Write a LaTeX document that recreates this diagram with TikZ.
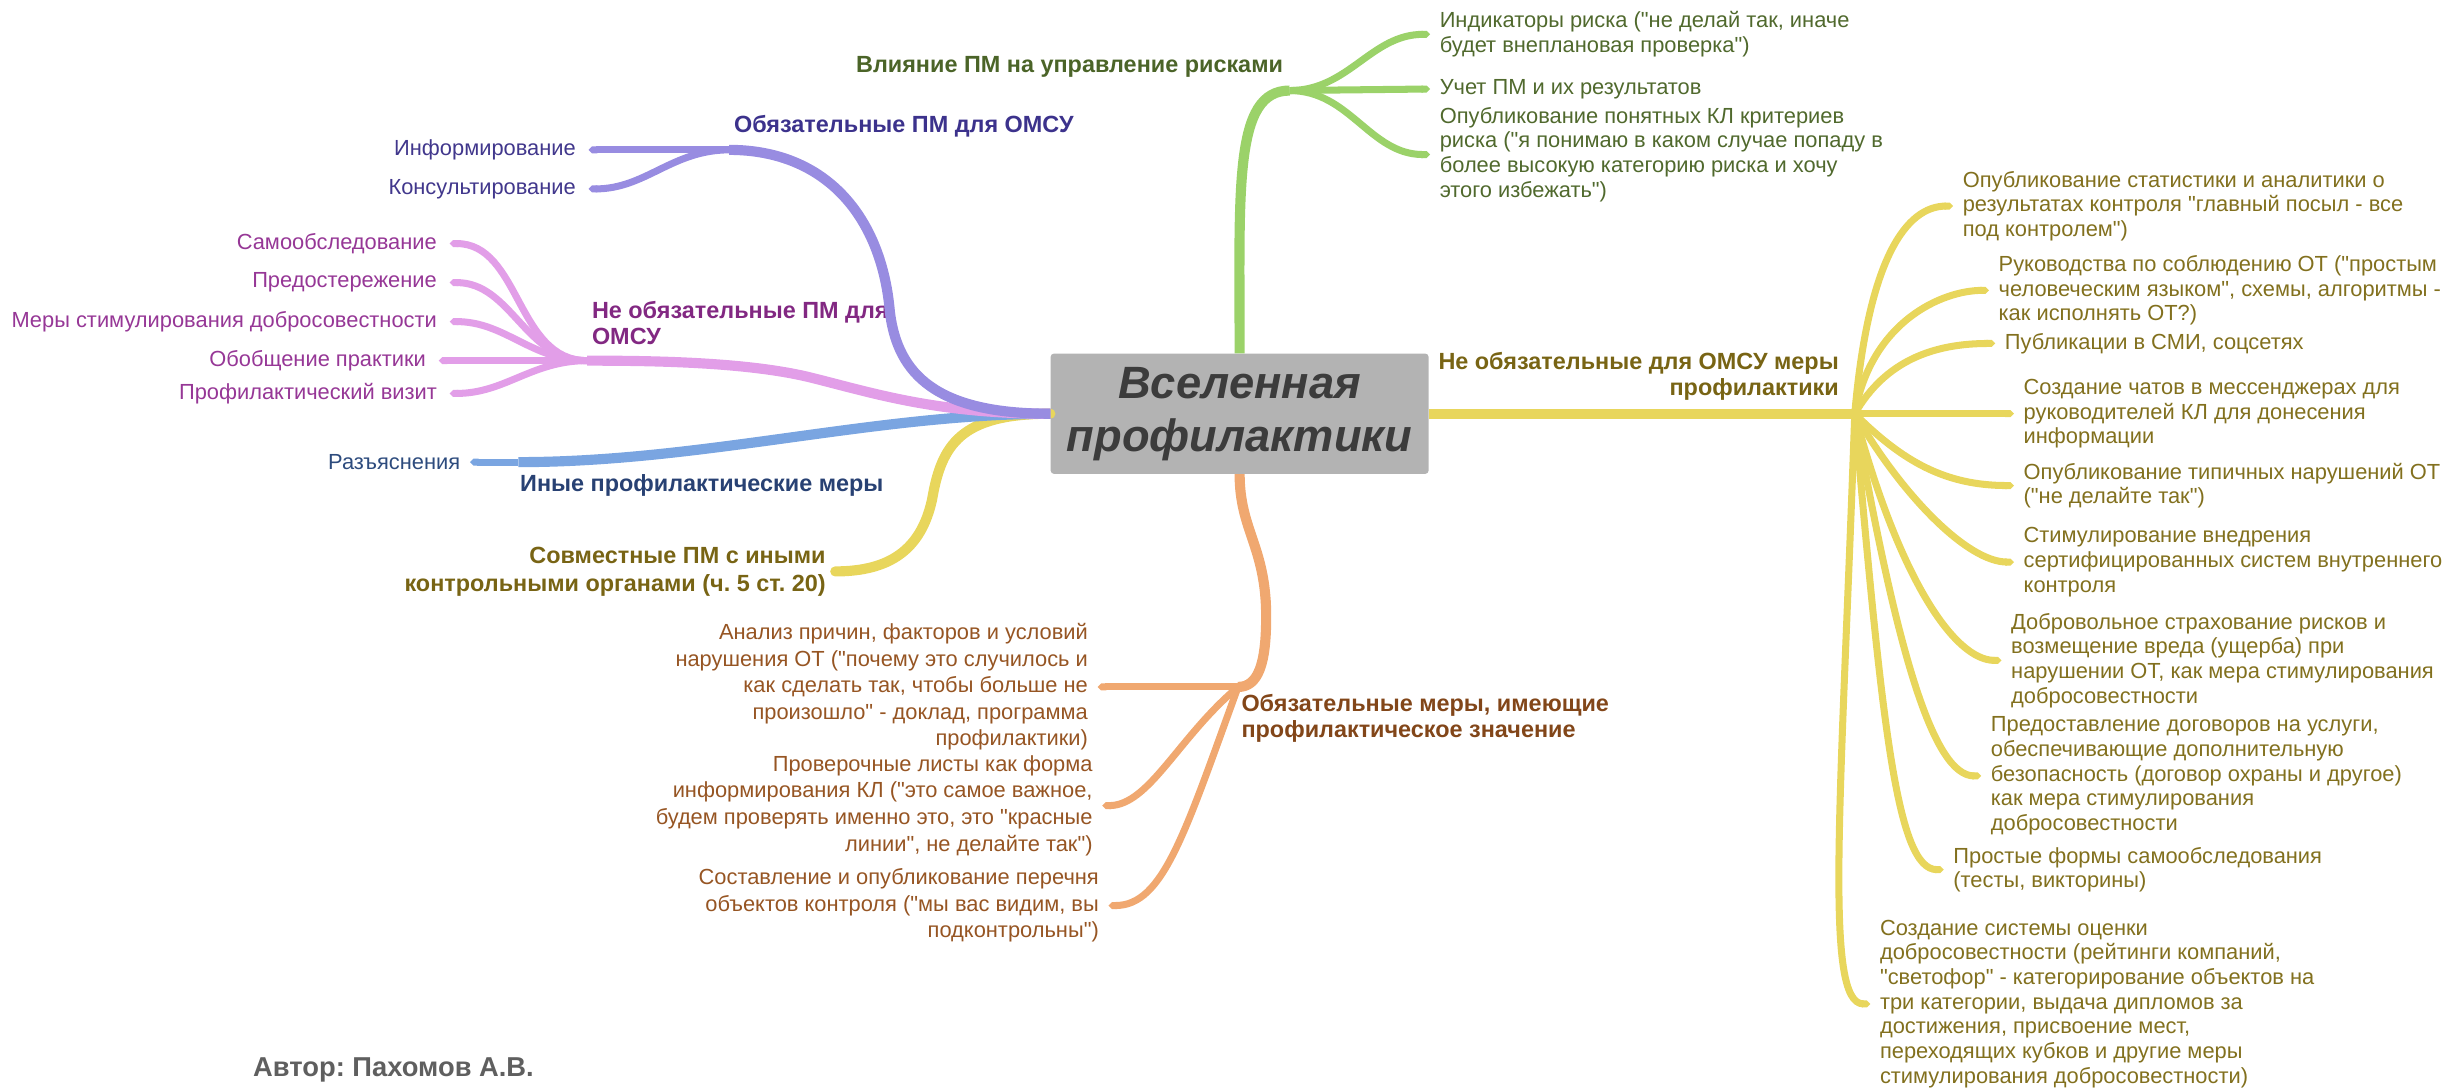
\documentclass[tikz,border=0pt]{standalone}
\usepackage{fontspec}
\setmainfont{Liberation Sans}[Ligatures=TeXOff]
\usetikzlibrary{arrows.meta}
\frenchspacing
\definecolor{grnline}{RGB}{155,210,105}
\definecolor{grntext}{RGB}{80,105,45}
\definecolor{grntop}{RGB}{75,100,40}
\definecolor{ylwline}{RGB}{232,214,92}
\definecolor{ylwtext}{RGB}{130,112,30}
\definecolor{ylwtop}{RGB}{120,100,20}
\definecolor{orgline}{RGB}{240,168,112}
\definecolor{orgtext}{RGB}{150,85,35}
\definecolor{orgtop}{RGB}{130,70,25}
\definecolor{blueline}{RGB}{122,165,225}
\definecolor{bluetext}{RGB}{45,75,125}
\definecolor{bluetop}{RGB}{40,65,115}
\definecolor{purline}{RGB}{152,140,225}
\definecolor{purtext}{RGB}{65,55,140}
\definecolor{purtop}{RGB}{60,50,140}
\definecolor{pinkline}{RGB}{226,158,232}
\definecolor{pinktext}{RGB}{150,55,150}
\definecolor{pinktop}{RGB}{130,40,130}
\definecolor{ctrfill}{RGB}{179,179,179}
\definecolor{ctrtext}{RGB}{60,60,60}
\definecolor{authtext}{RGB}{95,95,95}
\newcommand{\leaffont}{\fontsize{14}{15.8}\selectfont}
\newcommand{\leftleaffont}{\fontsize{14}{17}\selectfont}
\newcommand{\topicfont}{\fontsize{15}{17}\selectfont\bfseries}

\begin{document}
\begin{tikzpicture}[x=1pt,y=-1pt,
	leaf/.style={font=\leaffont, inner ysep=0pt, inner xsep=6pt},
	lleaf/.style={leaf, font=\leftleaffont, align=right, anchor=east},
	rleaf/.style={leaf, align=left, anchor=west},
	topic/.style={font=\topicfont, inner sep=0pt},
	mainbr/.style={line width=6.5pt},
	leafbr/.style={line width=4.5pt, -{Triangle Cap[]}},
	ctrbox/.style={fill=ctrfill, rounded corners=2pt, minimum width=242pt, minimum height=77pt, align=center, text=ctrtext, font=\fontsize{29}{34}\selectfont\bfseries\itshape}]
	\useasboundingbox (0,0) rectangle (1568,698);

	\node[ctrbox] (ctr) at (794,265) {Вселенная\\профилактики};

	\coordinate (gf) at (826,58);
	\coordinate (yf) at (1188,265);
	\coordinate (of) at (793,440);
	\coordinate (bf) at (332,296);
	\coordinate (pf) at (467,96);
	\coordinate (kf) at (376,231);

	% green
	\node[rleaf, text=grntext] (g1) at (916,22) {Индикаторы риска ("не делай так, иначе\\будет внеплановая проверка")};
	\node[rleaf, text=grntext] (g2) at (916,57) {Учет ПМ и их результатов};
	\node[rleaf, text=grntext] (g3) at (916,99) {Опубликование понятных КЛ критериев\\риска ("я понимаю в каком случае попаду в\\более высокую категорию риска и хочу\\этого избежать")};
	\node[topic, text=grntop, anchor=east] (gl) at (822,43) {Влияние ПМ на управление рисками};

	% yellow, right
	\node[rleaf, text=ylwtext] (y1) at (1251,132) {Опубликование статистики и аналитики о\\результатах контроля "главный посыл - все\\под контролем")};
	\node[rleaf, text=ylwtext] (y2) at (1274,186) {Руководства по соблюдению ОТ ("простым\\человеческим языком", схемы, алгоритмы -\\как исполнять ОТ?)};
	\node[rleaf, text=ylwtext] (y3) at (1278,220) {Публикации в СМИ, соцсетях};
	\node[rleaf, text=ylwtext] (y4) at (1290,265) {Создание чатов в мессенджерах для\\руководителей КЛ для донесения\\информации};
	\node[rleaf, text=ylwtext] (y5) at (1290,311) {Опубликование типичных нарушений ОТ\\("не делайте так")};
	\node[rleaf, text=ylwtext] (y6) at (1290,360) {Стимулирование внедрения\\сертифицированных систем внутреннего\\контроля};
	\node[rleaf, text=ylwtext] (y7) at (1282,423) {Добровольное страхование рисков и\\возмещение вреда (ущерба) при\\нарушении ОТ, как мера стимулирования\\добросовестности};
	\node[rleaf, text=ylwtext] (y8) at (1269,497) {Предоставление договоров на услуги,\\обеспечивающие дополнительную\\безопасность (договор охраны и другое)\\как мера стимулирования\\добросовестности};
	\node[rleaf, text=ylwtext] (y9) at (1245,557) {Простые формы самообследования\\(тесты, викторины)};
	\node[rleaf, text=ylwtext] (y10) at (1198,643) {Создание системы оценки\\добросовестности (рейтинги компаний,\\"светофор" - категорирование объектов на\\три категории, выдача дипломов за\\достижения, присвоение мест,\\переходящих кубков и другие меры\\стимулирования добросовестности)};
	\node[topic, text=ylwtop, align=right, anchor=east] (yl) at (1178,241) {Не обязательные для ОМСУ меры\\профилактики};

	% orange
	\node[lleaf, text=orgtext] (o1) at (703,440) {Анализ причин, факторов и условий\\нарушения ОТ ("почему это случилось и\\как сделать так, чтобы больше не\\произошло" - доклад, программа\\профилактики)};
	\node[lleaf, text=orgtext] (o2) at (706,516) {Проверочные листы как форма\\информирования КЛ ("это самое важное,\\будем проверять именно это, это "красные\\линии", не делайте так")};
	\node[lleaf, text=orgtext] (o3) at (710,580) {Составление и опубликование перечня\\объектов контроля ("мы вас видим, вы\\подконтрольны")};
	\node[topic, text=orgtop, align=left, anchor=west] (ol) at (795,460) {Обязательные меры, имеющие\\профилактическое значение};

	% yellow, left
	\node[topic, text=ylwtop, align=right, anchor=east, inner xsep=6pt, font=\fontsize{15}{18}\selectfont] (sv) at (535,366) {\bfseries Совместные ПМ с иными\\\bfseries контрольными органами (ч. 5 ст. 20)};

	% blue
	\node[lleaf, text=bluetext] (rz) at (301,296) {Разъяснения};
	\node[topic, text=bluetop, anchor=west] (bl) at (333,311) {Иные профилактические меры};

	% purple
	\node[lleaf, text=purtext, inner xsep=8pt] (p1) at (377,96) {Информирование};
	\node[lleaf, text=purtext, inner xsep=8pt] (p2) at (377,121) {Консультирование};
	\node[topic, text=purtop, anchor=west] (pl) at (470,81) {Обязательные ПМ для ОМСУ};

	% pink
	\node[lleaf, text=pinktext, inner xsep=8pt] (k1) at (288,156) {Самообследование};
	\node[lleaf, text=pinktext, inner xsep=8pt] (k2) at (288,181) {Предостережение};
	\node[lleaf, text=pinktext, inner xsep=8pt] (k3) at (288,206) {Меры стимулирования добросовестности};
	\node[lleaf, text=pinktext, inner xsep=8pt] (k4) at (281,231) {Обобщение практики};
	\node[lleaf, text=pinktext, inner xsep=8pt] (k5) at (288,252) {Профилактический визит};
	\node[topic, text=pinktop, align=left, anchor=west] (kl) at (379,207) {Не обязательные ПМ для\\ОМСУ};

	\node[topic, text=authtext, anchor=west, font=\fontsize{17.5}{20}\selectfont\bfseries] (auth) at (162,685) {Автор: Пахомов А.В.};

	\draw[mainbr, grnline] (ctr.north) .. controls (794,120) and (790,58) .. (gf);
	\path[leafbr, grnline] (gf) edge[out=0, in=180] (g1.west)
		edge (g2.west)
		edge[out=0, in=180] (g3.west);

	\draw[mainbr, ylwline] (ctr.east) -- (yf);
	\path[leafbr, ylwline] (yf) edge[out=85, in=180, out distance=100pt, in distance=30pt] (y1.west)
		edge[out=80, in=180, out distance=60pt, in distance=30pt] (y2.west)
		edge[out=60, in=180] (y3.west)
		edge (y4.west)
		edge[out=-45, in=180] (y5.west)
		edge[out=-60, in=180, out distance=60pt, in distance=30pt] (y6.west)
		edge[out=-75, in=180, out distance=110pt, in distance=30pt] (y7.west)
		edge[out=-80, in=180, out distance=160pt, in distance=30pt] (y8.west)
		edge[out=-85, in=180, out distance=200pt, in distance=30pt] (y9.west)
		edge[out=-92, in=180, out distance=250pt, in distance=30pt] (y10.west);

	\draw[mainbr, orgline] (ctr.south) .. controls (794,340) and (811,350) .. (811,395) .. controls (811,425) and (806,440) .. (of);
	\path[leafbr, orgline] (of) edge (o1.east)
		edge[out=220, in=0, out distance=50pt, in distance=30pt] (o2.east)
		edge[out=250, in=0, out distance=100pt, in distance=35pt] (o3.east);

	\draw[mainbr, ylwline, line cap=round] (ctr.west) .. controls (615,265) and (603,285) .. (597,320) .. controls (590,352) and (570,366) .. (sv.east);

	\draw[mainbr, blueline] (ctr.west) .. controls (560,265) and (450,296) .. (bf);
	\path[leafbr, blueline] (bf) edge (rz.east);

	\draw[mainbr, pinkline] (ctr.west) .. controls (600,265) and (560,252) .. (520,242) .. controls (480,232) and (420,231) .. (kf);
	\path[leafbr, pinkline] (kf) edge[out=180, in=0] (k1.east)
		edge[out=180, in=0] (k2.east)
		edge[out=180, in=0] (k3.east)
		edge (k4.east)
		edge[out=180, in=0] (k5.east);

	\draw[mainbr, purline] (ctr.west) .. controls (600,265) and (575,240) .. (570,200) .. controls (565,140) and (530,96) .. (pf);
	\path[leafbr, purline] (pf) edge (p1.east)
		edge[out=180, in=0] (p2.east);
\end{tikzpicture}
\end{document}
